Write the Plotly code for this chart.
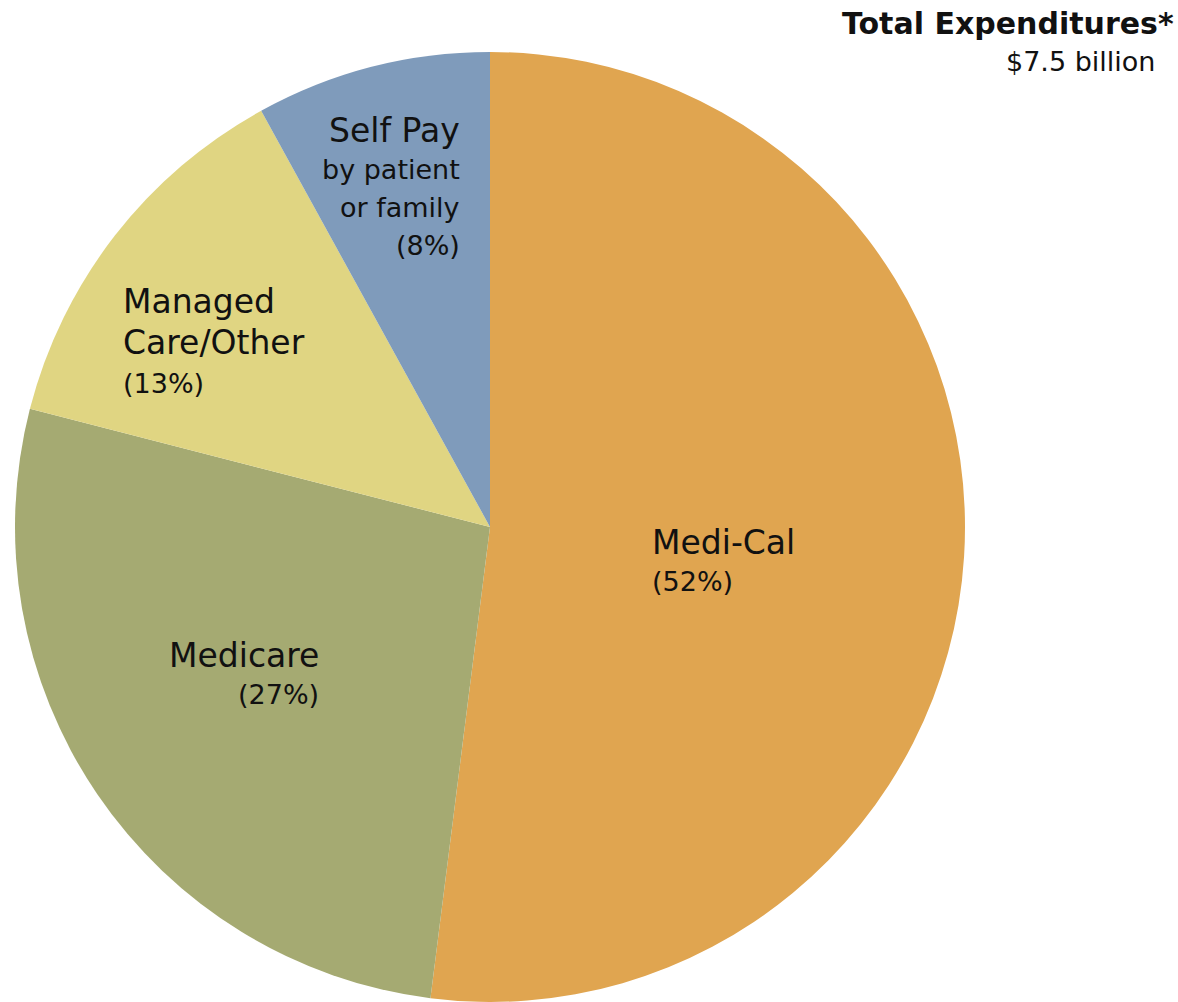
import plotly.graph_objects as go

# Payer mix of total expenditures
payers = ["Medi-Cal", "Medicare", "Managed Care/Other", "Self Pay"]
shares = [52, 27, 13, 8]
colors = ["#E0A550", "#A5AA72", "#E0D582", "#7F9BBB"]

total_title = "Total Expenditures*"
total_value = "$7.5 billion"

W, H = 1178, 1002
FONT = "DejaVu Sans"


def px(x):
    return x / W


def py(y):
    return 1 - y / H


fig = go.Figure(
    go.Pie(
        labels=payers,
        values=shares,
        sort=False,
        direction="clockwise",
        rotation=0,
        marker=dict(colors=colors, line=dict(width=0)),
        textinfo="none",
        hoverinfo="none",
        showlegend=False,
        domain=dict(x=[px(15), px(965)], y=[py(1002), py(52)]),
    )
)

pct = {p: f"({v}%)" for p, v in zip(payers, shares)}

BIG, SMALL = 33, 27

# (text, x, y, xanchor, size, bold)
lines = [
    ("Medi-Cal", 650, 542, "left", BIG, False),
    (pct["Medi-Cal"], 650, 581, "left", SMALL, False),
    ("Medicare", 321, 655, "right", BIG, False),
    (pct["Medicare"], 321, 694, "right", SMALL, False),
    ("Managed", 121, 302, "left", BIG, False),
    ("Care/Other", 121, 342, "left", BIG, False),
    (pct["Managed Care/Other"], 121, 383, "left", SMALL, False),
    ("Self Pay", 462, 130, "right", BIG, False),
    ("by patient", 462, 169, "right", SMALL, False),
    ("or family", 462, 208, "right", SMALL, False),
    (pct["Self Pay"], 462, 245, "right", SMALL, False),
    (total_title, 1176, 23, "right", 30, True),
    (total_value, 1157, 62, "right", SMALL, False),
]

for text, x, y, xa, size, bold in lines:
    fig.add_annotation(
        text=f"<b>{text}</b>" if bold else text,
        x=px(x), y=py(y), xref="paper", yref="paper",
        xanchor=xa, yanchor="middle", showarrow=False,
        font=dict(family=FONT, size=size, color="#111111"),
    )

fig.update_layout(
    width=W, height=H,
    margin=dict(l=0, r=0, t=0, b=0),
    paper_bgcolor="white",
    plot_bgcolor="white",
)

fig.write_html("out.html")
